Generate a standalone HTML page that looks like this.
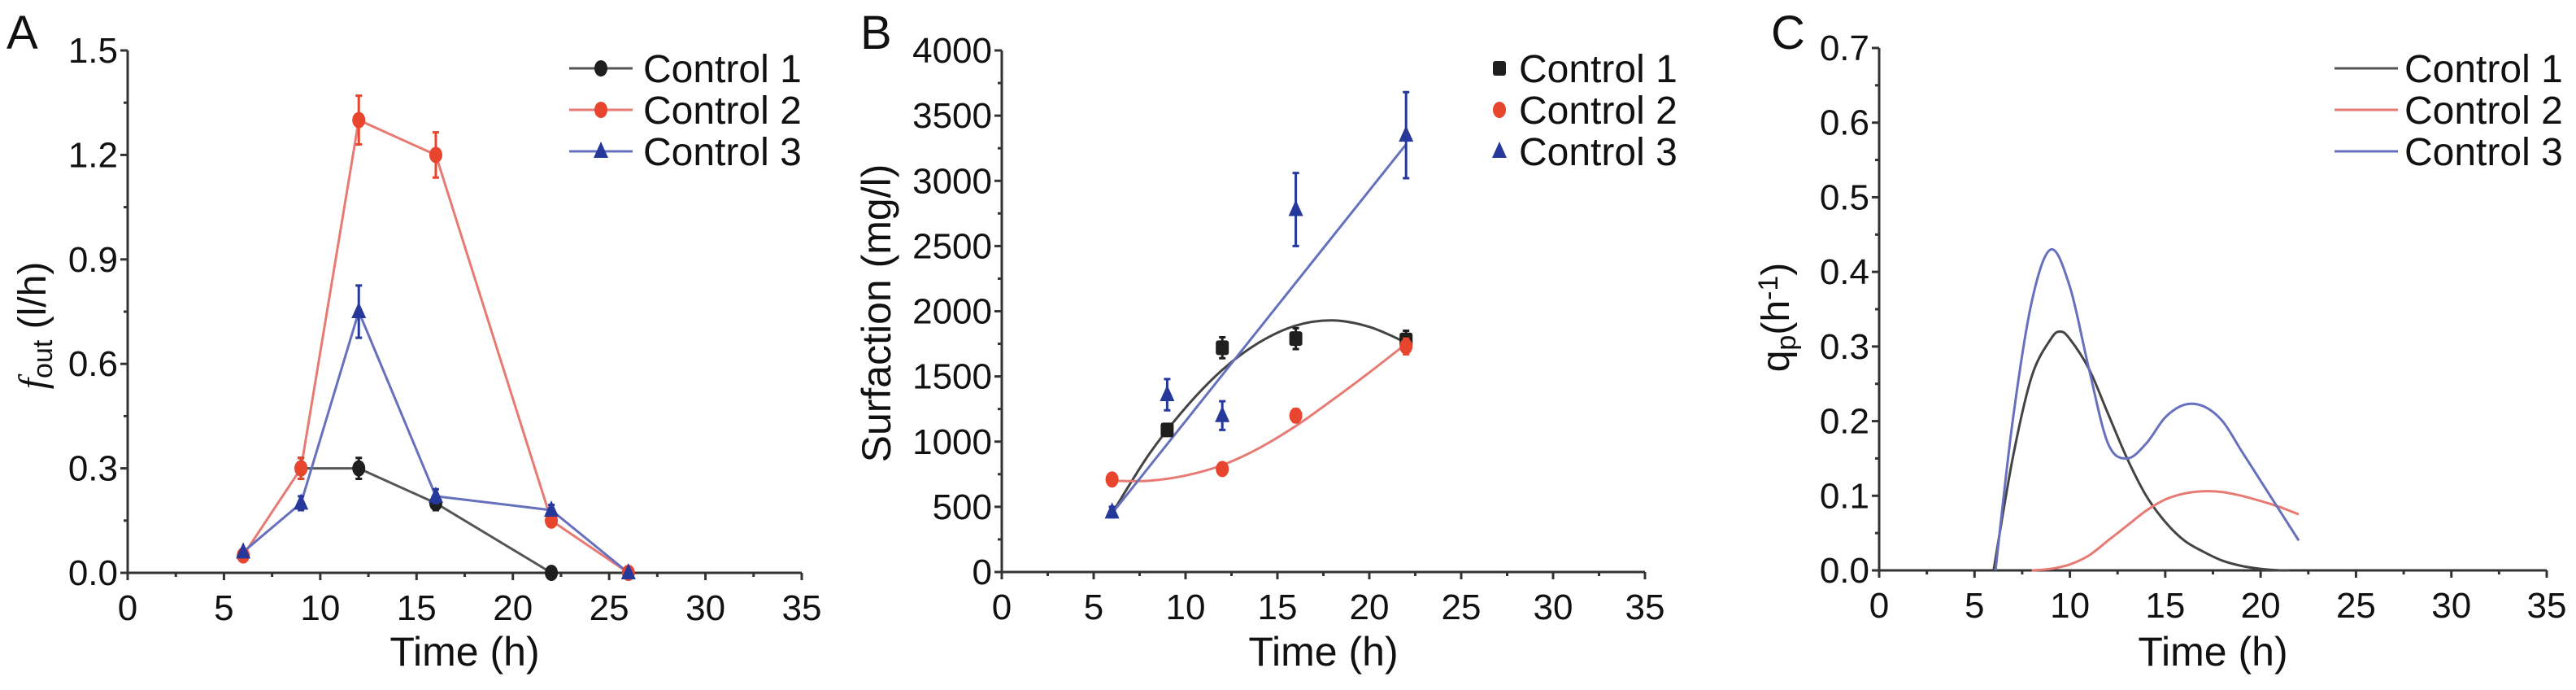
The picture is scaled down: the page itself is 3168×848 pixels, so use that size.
<!DOCTYPE html>
<html><head><meta charset="utf-8"><style>
html,body{margin:0;padding:0;background:#fff;}
svg{display:block;font-family:"Liberation Sans",Arial,sans-serif;}
</style></head><body>
<svg id="fig" width="3168" height="848" viewBox="0 0 3168 848"></svg>
<script>
// ---------- Panel A data ----------
const aTime1=[9,12,16,22];
const aCtrl1=[0.30,0.30,0.20,0.00];
const aErr1=[0.03,0.03,0.02,0];
const aTime2=[6,9,12,16,22,26];
const aCtrl2=[0.05,0.30,1.30,1.20,0.15,0.00];
const aErr2=[0,0.03,0.07,0.065,0,0];
const aTime3=[6,9,12,16,22,26];
const aCtrl3=[0.06,0.20,0.75,0.22,0.18,0.00];
const aErr3=[0,0.02,0.075,0.02,0.015,0];
const aYTicks=["0.0","0.3","0.6","0.9","1.2","1.5"];
const xTickLabels=["0","5","10","15","20","25","30","35"];
// ---------- Panel B data ----------
const bTime=[9,12,16,22];
const bCtrl1=[1090,1720,1790,1780];
const bErr1=[40,80,80,70];
const bTime2=[6,12,16,22];
const bCtrl2=[710,790,1200,1730];
const bErr2=[30,40,50,60];
const bTime3=[6,9,12,16,22];
const bCtrl3=[460,1360,1200,2780,3350];
const bErr3=[40,120,110,280,330];
const bFitX=[6,8,10,12,14,16,18,20,22];
const bFit1=[450,900,1260,1550,1760,1890,1930,1880,1760];
const bFit2=[700,700,740,820,950,1120,1320,1530,1750];
const bFit3X=[6,22];
const bFit3=[450,3280];
const bYTicks=["0","500","1000","1500","2000","2500","3000","3500","4000"];
// ---------- Panel C data ----------
const cX1=[6,7,8,9,9.5,10,11,12,13,14,15,16,17,18,19,20,21,21.5];
const cCtrl1=[0,0.15,0.26,0.31,0.32,0.31,0.27,0.21,0.15,0.10,0.065,0.04,0.025,0.013,0.006,0.002,0,0];
const cX2=[8,9,10,11,12,13,14,15,16,17,18,19,20,21,22];
const cCtrl2=[0,0.002,0.008,0.02,0.04,0.06,0.08,0.095,0.103,0.106,0.105,0.1,0.093,0.085,0.075];
const cX3=[6.1,7,8,9,10,11,12,13,14,15,16,17,18,19,20,21,22];
const cCtrl3=[0,0.2,0.36,0.43,0.38,0.27,0.17,0.15,0.17,0.205,0.222,0.22,0.2,0.16,0.12,0.08,0.04];
const cYTicks=["0.0","0.1","0.2","0.3","0.4","0.5","0.6","0.7"];

const NS="http://www.w3.org/2000/svg";
const fig=document.getElementById('fig');
function el(tag,attrs,parent,text){const e=document.createElementNS(NS,tag);for(const k in attrs)e.setAttribute(k,attrs[k]);if(text!==undefined)e.textContent=text;(parent||fig).appendChild(e);return e;}

const BLACK="#1e1e1e",RED="#e8452e",REDL="#e77a72",BLUE="#26399a",BLUEL="#6670bd";

function makeAxes(p){
  const g=el('g',{});
  
  
  const X=v=>p.x0+(v-0)/(35)*(p.x1-p.x0);
  const Y=v=>p.y0-(v/p.ymax)*(p.y0-p.y1);
  el('line',{x1:p.x0,y1:p.y0,x2:p.x1,y2:p.y0,stroke:'#333','stroke-width':3},g);
  el('line',{x1:p.x0,y1:p.y0,x2:p.x0,y2:p.y1,stroke:'#333','stroke-width':3},g);
  for(let i=0;i<xTickLabels.length;i++){
    const v=i*5,x=X(v);
    el('line',{x1:x,y1:p.y0,x2:x,y2:p.y0+9,stroke:'#333','stroke-width':3},g);
    if(i<7){const xm=X(v+2.5);el('line',{x1:xm,y1:p.y0,x2:xm,y2:p.y0+5,stroke:'#333','stroke-width':3},g);}
    const t=el('text',{x:x,y:p.y0+58,'font-size':44,'text-anchor':'middle',fill:'#111'},g,xTickLabels[i]);
    
    
  }
  const n=p.yt.length-1;
  for(let i=0;i<=n;i++){
    const v=i*p.ymax/n,y=Y(v);
    el('line',{x1:p.x0,y1:y,x2:p.x0-9,y2:y,stroke:'#333','stroke-width':3},g);
    if(i<n){const ym=Y(v+p.ymax/n/2);el('line',{x1:p.x0,y1:ym,x2:p.x0-5,y2:ym,stroke:'#333','stroke-width':3},g);}
    const t=el('text',{x:p.x0-12,y:y+15,'font-size':44,'text-anchor':'end',fill:'#111'},g,p.yt[i]);
    
    
  }
  const xt=el('text',{x:(p.x0+p.x1)/2,y:818,'font-size':50,'text-anchor':'middle',fill:'#111'},g,'Time (h)');
  
  
  const pl=el('text',{x:p.lx,y:60,'font-size':58,fill:'#111'},g,p.letter);
  
  
  return {X,Y};
}
function smoothPath(pts){
  let d='M'+pts[0][0]+','+pts[0][1];
  for(let i=0;i<pts.length-1;i++){
    const p0=pts[i-1]||pts[i],p1=pts[i],p2=pts[i+1],p3=pts[i+2]||p2;
    const c1=[p1[0]+(p2[0]-p0[0])/6,p1[1]+(p2[1]-p0[1])/6];
    const c2=[p2[0]-(p3[0]-p1[0])/6,p2[1]-(p3[1]-p1[1])/6];
    d+=' C'+c1+' '+c2+' '+p2;
  }
  return d;
}
function line(ax,xs,ys,color,name,smooth){
  const pts=xs.map((x,i)=>[ax.X(x),ax.Y(ys[i])]);
  const d=smooth?smoothPath(pts):'M'+pts.map(p=>p.join(',')).join(' L');
  const e=el('path',{d:d,fill:'none',stroke:color,'stroke-width':3});
  
  
}
function marker(cx,cy,shape,color,name){
  let e;
  if(shape==='circle')e=el('ellipse',{cx:cx,cy:cy,rx:8,ry:10,fill:color});
  else if(shape==='square')e=el('rect',{x:cx-8,y:cy-9,width:16,height:18,rx:3,fill:color});
  else e=el('polygon',{points:`${cx},${cy-12} ${cx+9},${cy+8} ${cx-9},${cy+8}`,fill:color});
  
  
}
function points(ax,xs,ys,errs,shape,color,name){
  xs.forEach((x,i)=>{
    const cx=ax.X(x),cy=ax.Y(ys[i]);
    if(errs[i]>0){
      const ya=ax.Y(ys[i]+errs[i]),yb=ax.Y(ys[i]-errs[i]);
      const eb=el('path',{d:`M${cx},${ya} L${cx},${yb} M${cx-4},${ya} L${cx+4},${ya} M${cx-4},${yb} L${cx+4},${yb}`,stroke:color,'stroke-width':3,fill:'none'});
      
      
    }
    marker(cx,cy,shape,color,name+'-point');
  });
}
function legend(items,x,textX){
  items.forEach((it,i)=>{
    const y=84+i*51;
    const g=el('g',{});
    
    
    if(it.line)el('line',{x1:x,y1:y,x2:x+78,y2:y,stroke:it.line,'stroke-width':3},g);
    if(it.shape){const mx=it.line?x+39:x;const e=marker(mx,y,it.shape,it.color,'legend-marker');}
    el('text',{x:textX,y:y+17,'font-size':48,fill:'#111'},g,it.label);
  });
}

// Panel A
const A=makeAxes({name:'panel-a',x0:157,x1:986,y0:704,y1:62,ymax:1.5,yt:aYTicks,letter:'A',lx:8});
line(A,aTime1,aCtrl1,'#555','control1-line');
line(A,aTime2,aCtrl2,REDL,'control2-line');
line(A,aTime3,aCtrl3,BLUEL,'control3-line');
points(A,aTime1,aCtrl1,aErr1,'circle',BLACK,'control1');
points(A,aTime2,aCtrl2,aErr2,'circle',RED,'control2');
points(A,aTime3,aCtrl3,aErr3,'triangle',BLUE,'control3');
legend([{line:'#555',shape:'circle',color:BLACK,label:'Control 1'},{line:REDL,shape:'circle',color:RED,label:'Control 2'},{line:BLUEL,shape:'triangle',color:BLUE,label:'Control 3'}],700,791);
const ayt=el('text',{transform:'translate(56,400) rotate(-90)','font-size':48,'text-anchor':'middle',fill:'#111'});


el('tspan',{'font-family':'"Liberation Serif",serif','font-style':'italic'},ayt,'f');
el('tspan',{'font-size':34,dy:8},ayt,'out');
el('tspan',{dy:-8},ayt,' (l/h)');

// Panel B
const B=makeAxes({name:'panel-b',x0:1232,x1:2023,y0:703,y1:62,ymax:4000,yt:bYTicks,letter:'B',lx:1058});
line(B,bFitX,bFit1,'#444','control1-fit',true);
line(B,bFitX,bFit2,REDL,'control2-fit',true);
line(B,bFit3X,bFit3,BLUEL,'control3-fit');
points(B,bTime,bCtrl1,bErr1,'square',BLACK,'control1');
points(B,bTime2,bCtrl2,bErr2,'circle',RED,'control2');
points(B,bTime3,bCtrl3,bErr3,'triangle',BLUE,'control3');
legend([{shape:'square',color:BLACK,label:'Control 1'},{shape:'circle',color:RED,label:'Control 2'},{shape:'triangle',color:BLUE,label:'Control 3'}],1844,1868);
const byt=el('text',{transform:'translate(1095,385) rotate(-90)','font-size':50,'text-anchor':'middle',fill:'#111'},fig,'Surfaction (mg/l)');



// Panel C
const C=makeAxes({name:'panel-c',x0:2311,x1:3132,y0:701,y1:59,ymax:0.7,yt:cYTicks,letter:'C',lx:2178});
line(C,cX1,cCtrl1,'#444','control1-line',true);
line(C,cX2,cCtrl2,REDL,'control2-line',true);
line(C,cX3,cCtrl3,BLUEL,'control3-line',true);
legend([{line:'#555',label:'Control 1'},{line:REDL,label:'Control 2'},{line:BLUEL,label:'Control 3'}],2871,2957);
const cyt=el('text',{transform:'translate(2200,390) rotate(-90)','font-size':48,'text-anchor':'middle',fill:'#111'});


el('tspan',{},cyt,'q');
el('tspan',{'font-size':34,dy:8},cyt,'p');
el('tspan',{dy:-8},cyt,'(h');
el('tspan',{'font-size':34,dy:-14},cyt,'-1');
el('tspan',{dy:14},cyt,')');
</script>
</body></html>
